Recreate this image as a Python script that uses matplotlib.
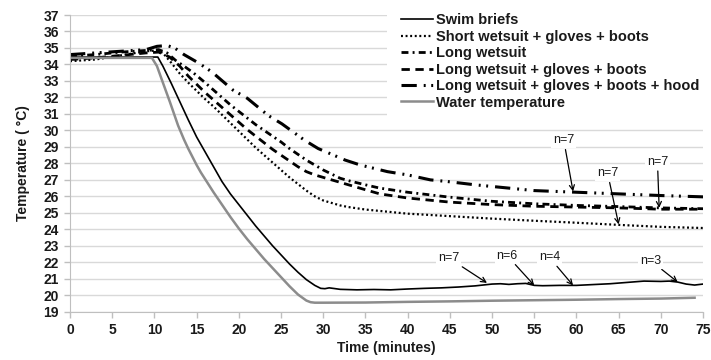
import matplotlib
matplotlib.use("Agg")
import matplotlib.pyplot as plt

plt.rcParams['font.family'] = ['Liberation Sans', 'DejaVu Sans']
plt.rcParams['lines.scale_dashes'] = False

# --- data ---
swim_t = [0, 5, 10.4, 11, 12, 13, 14, 15, 16, 17, 18, 19, 20, 21, 22, 23, 24, 25, 26, 27, 28, 29,
          29.7, 30.2, 30.7, 31.3, 32, 34, 36, 38, 40, 42, 44, 46, 48, 50, 51, 52, 53, 54, 55, 56, 58,
          60, 62, 64, 66, 68, 70, 71, 72, 73, 74, 75]
swim_T = [34.45, 34.45, 34.45, 33.9, 32.85, 31.75, 30.65, 29.6, 28.7, 27.8, 26.9, 26.15, 25.5, 24.85,
          24.2, 23.6, 23.0, 22.45, 21.9, 21.4, 20.95, 20.6, 20.42, 20.4, 20.45, 20.41, 20.36, 20.33,
          20.35, 20.33, 20.38, 20.42, 20.45, 20.5, 20.57, 20.68, 20.7, 20.66, 20.7, 20.72, 20.6, 20.58,
          20.6, 20.6, 20.65, 20.7, 20.78, 20.86, 20.84, 20.86, 20.8, 20.68, 20.62, 20.68]

short_t = [0, 3, 6, 9, 10.3, 11, 12, 13, 14, 15, 16, 17, 18, 19, 20, 21, 22, 23, 24, 25, 26, 27, 28,
           29, 30, 31, 32, 33, 35, 37, 40, 45, 50, 55, 60, 65, 70, 75]
short_T = [34.2, 34.3, 34.55, 34.8, 34.85, 34.7, 34.1, 33.45, 32.9, 32.4, 31.9, 31.45, 30.95, 30.45,
           29.95, 29.45, 28.95, 28.5, 28.05, 27.6, 27.15, 26.75, 26.35, 26.0, 25.75, 25.6, 25.45, 25.35,
           25.2, 25.1, 24.95, 24.8, 24.65, 24.52, 24.4, 24.27, 24.15, 24.08]

long_t = [0, 3, 6, 9, 10.5, 11.5, 12.5, 13.5, 14.6, 16, 17, 18, 19, 20, 21, 22, 23, 24, 25, 26, 27,
          28, 29, 30, 31, 32, 33, 35, 36.7, 40, 45, 50, 55, 60, 65, 70, 75]
long_T = [34.5, 34.6, 34.75, 34.85, 34.9, 34.7, 34.25, 33.9, 33.5, 32.9, 32.45, 32.0, 31.55, 31.15,
          30.75, 30.35, 30.0, 29.65, 29.3, 28.9, 28.55, 28.2, 27.9, 27.6, 27.35, 27.1, 26.95, 26.7,
          26.5, 26.25, 25.95, 25.7, 25.55, 25.45, 25.38, 25.3, 25.25]

lgb_t = [0, 3, 6, 9, 10.5, 11.8, 13, 14, 15, 16, 17, 18, 19, 20, 21, 22, 23, 24, 25, 26, 27, 28, 29,
         30, 31, 32, 33, 35, 36.7, 40, 45, 50, 55, 60, 65, 70, 75]
lgb_T = [34.3, 34.4, 34.55, 34.7, 34.75, 34.45, 33.9, 33.3, 32.8, 32.3, 31.85, 31.4, 30.95, 30.5,
         30.05, 29.65, 29.25, 28.85, 28.5, 28.15, 27.8, 27.5, 27.3, 27.15, 27.0, 26.85, 26.7, 26.4,
         26.15, 25.9, 25.65, 25.5, 25.4, 25.35, 25.3, 25.22, 25.22]

hood_t = [0, 3, 6, 9, 10.3, 11.5, 12.4, 13.5, 15.2, 16.8, 19.3, 21, 23.5, 25.1, 27.8, 29.4, 32.6,
          34.4, 37.6, 40, 42.7, 44.7, 48, 50, 53, 55, 59.5, 65, 70, 75]
hood_T = [34.6, 34.7, 34.8, 34.9, 35.1, 35.15, 35.0, 34.6, 34.1, 33.55, 32.45, 31.95, 30.9, 30.4,
          29.4, 28.9, 28.2, 27.9, 27.5, 27.3, 27.0, 26.9, 26.7, 26.6, 26.45, 26.35, 26.26, 26.15,
          26.05, 25.97]

water_t = [0, 9.7, 10.3, 11, 11.85, 12.8, 13.5, 14, 14.5, 15, 15.5, 16, 17, 18, 19, 20, 21, 22, 23,
           24, 25, 26, 27, 28, 28.5, 29, 30, 35, 40, 45, 50, 55, 60, 65, 70, 74]
water_T = [34.4, 34.4, 33.9, 32.9, 31.7, 30.3, 29.45, 28.9, 28.4, 27.9, 27.45, 27.05, 26.25, 25.5,
           24.75, 24.05, 23.4, 22.8, 22.2, 21.65, 21.1, 20.55, 20.05, 19.68, 19.58, 19.55, 19.55,
           19.56, 19.6, 19.63, 19.67, 19.7, 19.73, 19.77, 19.8, 19.85]

labels = ['Swim briefs', 'Short wetsuit + gloves + boots', 'Long wetsuit',
          'Long wetsuit + gloves + boots', 'Long wetsuit + gloves + boots + hood',
          'Water temperature']

# n labels: text, text position, arrow target
n_text = ['n=7', 'n=7', 'n=7', 'n=7', 'n=6', 'n=4', 'n=3']
n_pos = [(58.5, 29.4), (63.7, 27.4), (69.6, 28.1), (44.9, 22.25), (51.8, 22.4), (56.8, 22.3), (68.8, 22.1)]
n_tip = [(59.6, 26.3), (65.0, 24.3), (69.8, 25.3), (49.4, 20.75), (55.0, 20.6), (59.6, 20.6), (72.0, 20.8)]

fig = plt.figure(figsize=(7.11, 3.6), dpi=100)
ax = fig.add_axes([0.0985, 0.134, 0.8903, 0.8243])

ax.plot(swim_t, swim_T, color='black', lw=1.2, label=labels[0])
ax.plot(short_t, short_T, color='black', lw=1.6, linestyle=(0, (1.4, 1.9)), label=labels[1])
ax.plot(long_t, long_T, color='black', lw=2.0, linestyle=(0, (5, 3, 1.4, 3)), label=labels[2])
ax.plot(lgb_t, lgb_T, color='black', lw=2.0, linestyle=(0, (6, 4)), label=labels[3])
ax.plot(hood_t, hood_T, color='black', lw=2.2, linestyle=(0, (11, 5, 1.4, 4, 1.4, 5)), label=labels[4])
ax.plot(water_t, water_T, color='#8c8c8c', lw=1.8, label=labels[5])

for txt, pos, tip in zip(n_text, n_pos, n_tip):
    ax.annotate(txt, xy=tip, xytext=pos, ha='center', va='center', fontsize=9, color='#1a1a1a',
                bbox=dict(boxstyle='square,pad=0.15', fc='white', ec='none'),
                arrowprops=dict(arrowstyle='->', color='black', lw=0.9, shrinkA=1, shrinkB=0),
                zorder=5)

ax.set_xlim(0, 75)
ax.set_ylim(19, 37)
ax.set_xticks(range(0, 76, 5))
ax.set_yticks(range(19, 38))
ax.grid(axis='y', color='#d9d9d9', lw=1)
ax.set_axisbelow(True)
for s in ['top', 'right']:
    ax.spines[s].set_visible(False)
for s in ['left', 'bottom']:
    ax.spines[s].set_color('#bfbfbf')
ax.tick_params(axis='both', colors='#bfbfbf', length=4, width=1, pad=4)
for lab in ax.get_xticklabels() + ax.get_yticklabels():
    lab.set_fontweight('bold')
    lab.set_fontsize(10)
    lab.set_color('#1a1a1a')

ax.set_xlabel('Time (minutes)', fontsize=10, fontweight='bold', color='#1a1a1a', labelpad=3)
ax.set_ylabel('Temperature ( °C)', fontsize=10, fontweight='bold', color='#1a1a1a', labelpad=10)

leg = ax.legend(loc='upper left', bbox_to_anchor=(0.49, 1.075), frameon=True, fancybox=False,
                facecolor='white', edgecolor='none', framealpha=1, borderpad=0.9,
                handlelength=2.2, handletextpad=0.2, labelspacing=0.17,
                prop={'weight': 'bold', 'size': 10.5})
for t in leg.get_texts():
    t.set_color('#1a1a1a')

fig.savefig('out.png', dpi=100)
